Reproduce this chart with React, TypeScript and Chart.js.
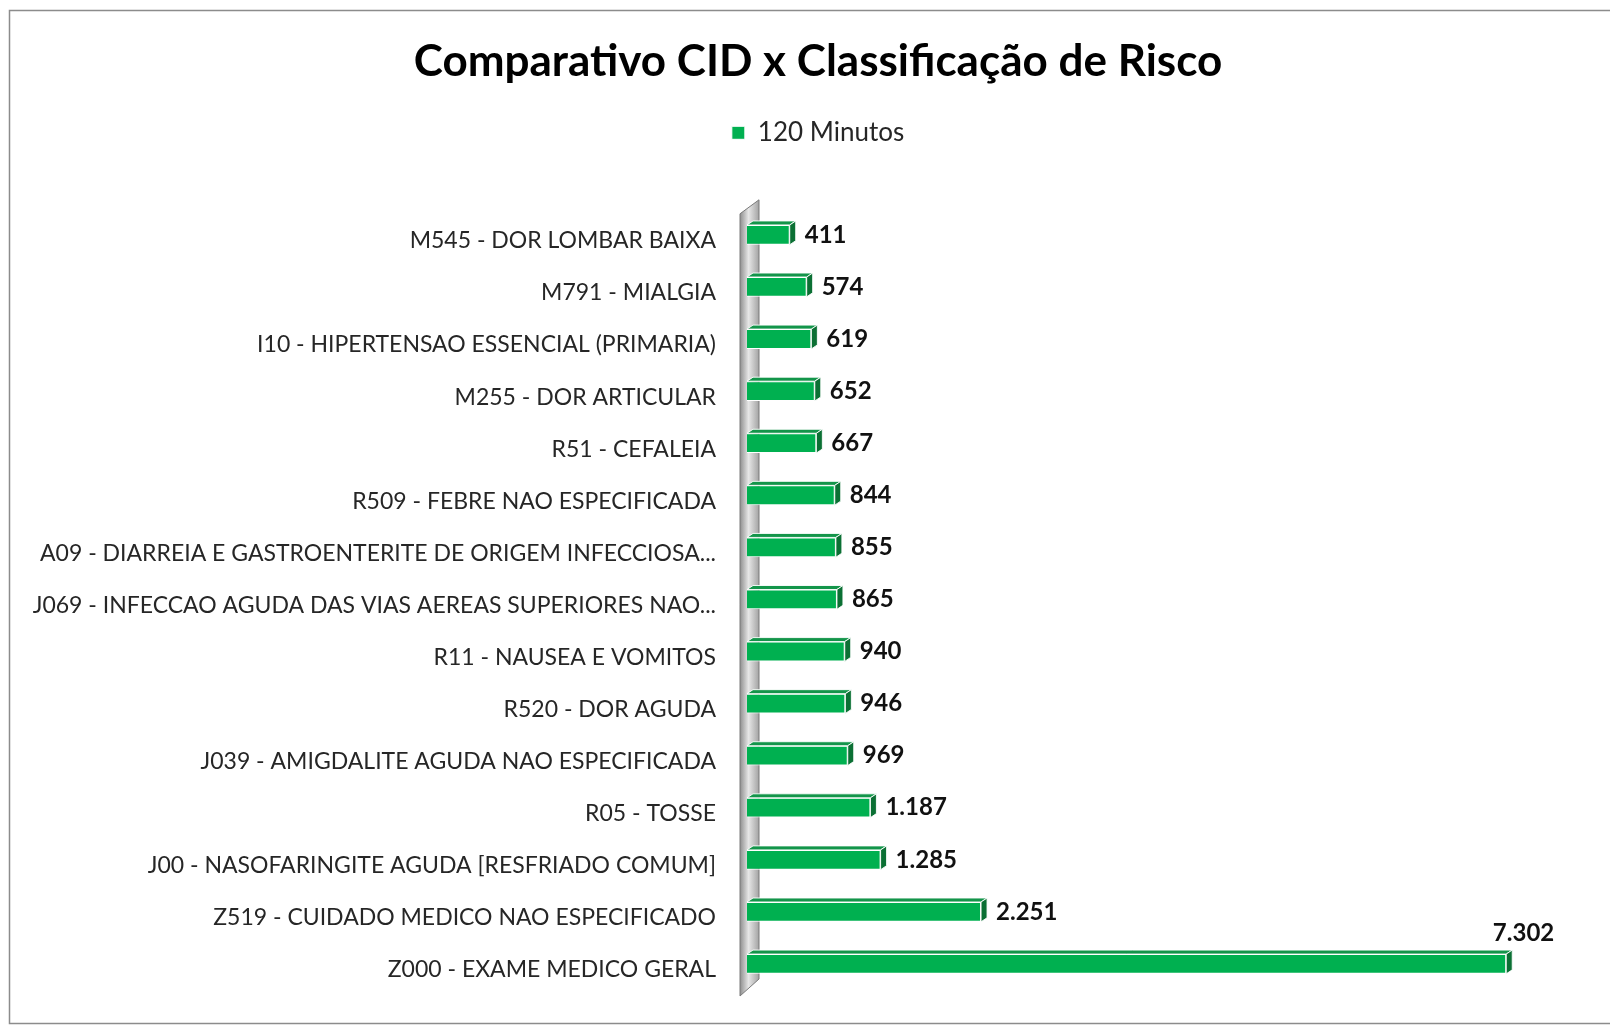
import React, { useEffect, useRef } from 'react';
import { Chart, registerables } from 'chart.js';

Chart.register(...registerables);

const titleText = 'Comparativo CID x Classificação de Risco';
const seriesLabel = '120 Minutos';

const categories = [
  'M545 - DOR LOMBAR BAIXA',
  'M791 - MIALGIA',
  'I10 - HIPERTENSAO ESSENCIAL (PRIMARIA)',
  'M255 - DOR ARTICULAR',
  'R51 - CEFALEIA',
  'R509 - FEBRE NAO ESPECIFICADA',
  'A09 - DIARREIA E GASTROENTERITE DE ORIGEM INFECCIOSA...',
  'J069 - INFECCAO AGUDA DAS VIAS AEREAS SUPERIORES NAO...',
  'R11 - NAUSEA E VOMITOS',
  'R520 - DOR AGUDA',
  'J039 - AMIGDALITE AGUDA NAO ESPECIFICADA',
  'R05 - TOSSE',
  'J00 - NASOFARINGITE AGUDA [RESFRIADO COMUM]',
  'Z519 - CUIDADO MEDICO NAO ESPECIFICADO',
  'Z000 - EXAME MEDICO GERAL',
];

const values = [411, 574, 619, 652, 667, 844, 855, 865, 940, 946, 969, 1187, 1285, 2251, 7302];

const FONT = 'Lato, "Open Sans", sans-serif';

const fmt = (v: number) => v.toString().replace(/\B(?=(\d{3})+(?!\d))/g, '.');

const framePlugin = {
  id: 'frame',
  beforeDraw(chart: any) {
    const { ctx, width, height } = chart;
    ctx.save();
    ctx.fillStyle = '#ffffff';
    ctx.fillRect(0, 0, width, height);
    ctx.strokeStyle = '#8c8c8c';
    ctx.lineWidth = 1.5;
    ctx.strokeRect(9.5, 10.5, width + 100, height - 12);
    ctx.restore();
  },
};

const wallPlugin = {
  id: 'wall',
  beforeDatasetsDraw(chart: any) {
    const { ctx, chartArea } = chart;
    const l = chartArea.left - 7;
    const r = chartArea.left + 12;
    const t = chartArea.top;
    const b = chartArea.bottom;
    ctx.save();
    const g = ctx.createLinearGradient(l, 0, r, 0);
    g.addColorStop(0, '#8f8f8f');
    g.addColorStop(0.45, '#e6e6e6');
    g.addColorStop(1, '#a3a3a3');
    ctx.beginPath();
    ctx.moveTo(l, t + 5);
    ctx.lineTo(r, t - 9);
    ctx.lineTo(r, b - 11);
    ctx.lineTo(l, b + 6);
    ctx.closePath();
    ctx.fillStyle = g;
    ctx.fill();
    ctx.strokeStyle = '#7a7a7a';
    ctx.lineWidth = 1;
    ctx.stroke();
    ctx.restore();
  },
};

const bar3dPlugin = {
  id: 'bar3d',
  afterDatasetsDraw(chart: any) {
    const { ctx, chartArea } = chart;
    const meta = chart.getDatasetMeta(0);
    const data = chart.data.datasets[0].data as number[];
    const dx = 6;
    const dy = 4;
    ctx.save();
    meta.data.forEach((el: any, i: number) => {
      const { x, y, base, height } = el.getProps(['x', 'y', 'base', 'height'], true);
      const top = y - height / 2;
      const bot = y + height / 2;
      // top face
      ctx.beginPath();
      ctx.moveTo(base, top);
      ctx.lineTo(x, top);
      ctx.lineTo(x + dx, top - dy);
      ctx.lineTo(base + dx, top - dy);
      ctx.closePath();
      ctx.fillStyle = '#13954a';
      ctx.fill();
      ctx.strokeStyle = 'rgba(255,255,255,0.9)';
      ctx.lineWidth = 1;
      ctx.stroke();
      // side face
      ctx.beginPath();
      ctx.moveTo(x, top);
      ctx.lineTo(x + dx, top - dy);
      ctx.lineTo(x + dx, bot - dy);
      ctx.lineTo(x, bot);
      ctx.closePath();
      ctx.fillStyle = '#0b7034';
      ctx.fill();
      ctx.stroke();

      // value label
      const txt = fmt(data[i]);
      ctx.font = `bold 24px ${FONT}`;
      ctx.fillStyle = '#111111';
      ctx.textBaseline = 'middle';
      const w = ctx.measureText(txt).width;
      const lx = x + dx + 9;
      if (lx + w > chartArea.right - 40) {
        ctx.textAlign = 'right';
        ctx.fillText(txt, x + 48, y - 31);
      } else {
        ctx.textAlign = 'left';
        ctx.fillText(txt, lx, y);
      }
    });
    ctx.restore();
  },
};

export default function App() {
  const canvasRef = useRef<HTMLCanvasElement | null>(null);

  useEffect(() => {
    document.body.style.margin = '0';
    document.body.style.overflow = 'hidden';
    const canvas = canvasRef.current;
    if (!canvas) return;
    const chart = new Chart(canvas, {
      type: 'bar',
      data: {
        labels: categories,
        datasets: [
          {
            label: seriesLabel,
            data: values,
            backgroundColor: '#00b050',
            borderColor: '#ffffff',
            borderWidth: 1,
            barPercentage: 0.38,
            categoryPercentage: 1,
          },
        ],
      },
      options: {
        indexAxis: 'y',
        animation: false,
        responsive: true,
        maintainAspectRatio: false,
        layout: { padding: { left: 26, right: 0, top: 8, bottom: 35 } },
        plugins: {
          title: {
            display: true,
            text: titleText,
            color: '#000000',
            font: { family: FONT, size: 44, weight: 'bold', lineHeight: 1.2 },
            padding: { top: 27, bottom: 22 },
          },
          legend: {
            display: true,
            position: 'top',
            labels: {
              boxWidth: 13,
              boxHeight: 13,
              color: '#262626',
              font: { family: FONT, size: 26 },
            },
          },
          tooltip: { enabled: false },
        },
        scales: {
          x: {
            position: 'top',
            min: 0,
            max: 8300,
            display: true,
            ticks: { display: false },
            grid: { display: false, drawTicks: false },
            border: { display: false },
            afterFit: (s: any) => {
              s.height = 53;
            },
          },
          y: {
            ticks: {
              color: '#262626',
              font: { family: FONT, size: 23 },
              padding: 31,
              labelOffset: 6,
              autoSkip: false,
            },
            grid: { display: false, drawTicks: false },
            border: { display: false },
            afterFit: (s: any) => {
              s.width = 721;
              s.paddingTop = 0;
              s.paddingBottom = 0;
            },
          },
        },
      },
      plugins: [framePlugin, wallPlugin, bar3dPlugin],
    });
    return () => chart.destroy();
  }, []);

  return (
    <div style={{ position: 'relative', width: 1610, height: 1025 }}>
      <canvas ref={canvasRef} />
    </div>
  );
}
